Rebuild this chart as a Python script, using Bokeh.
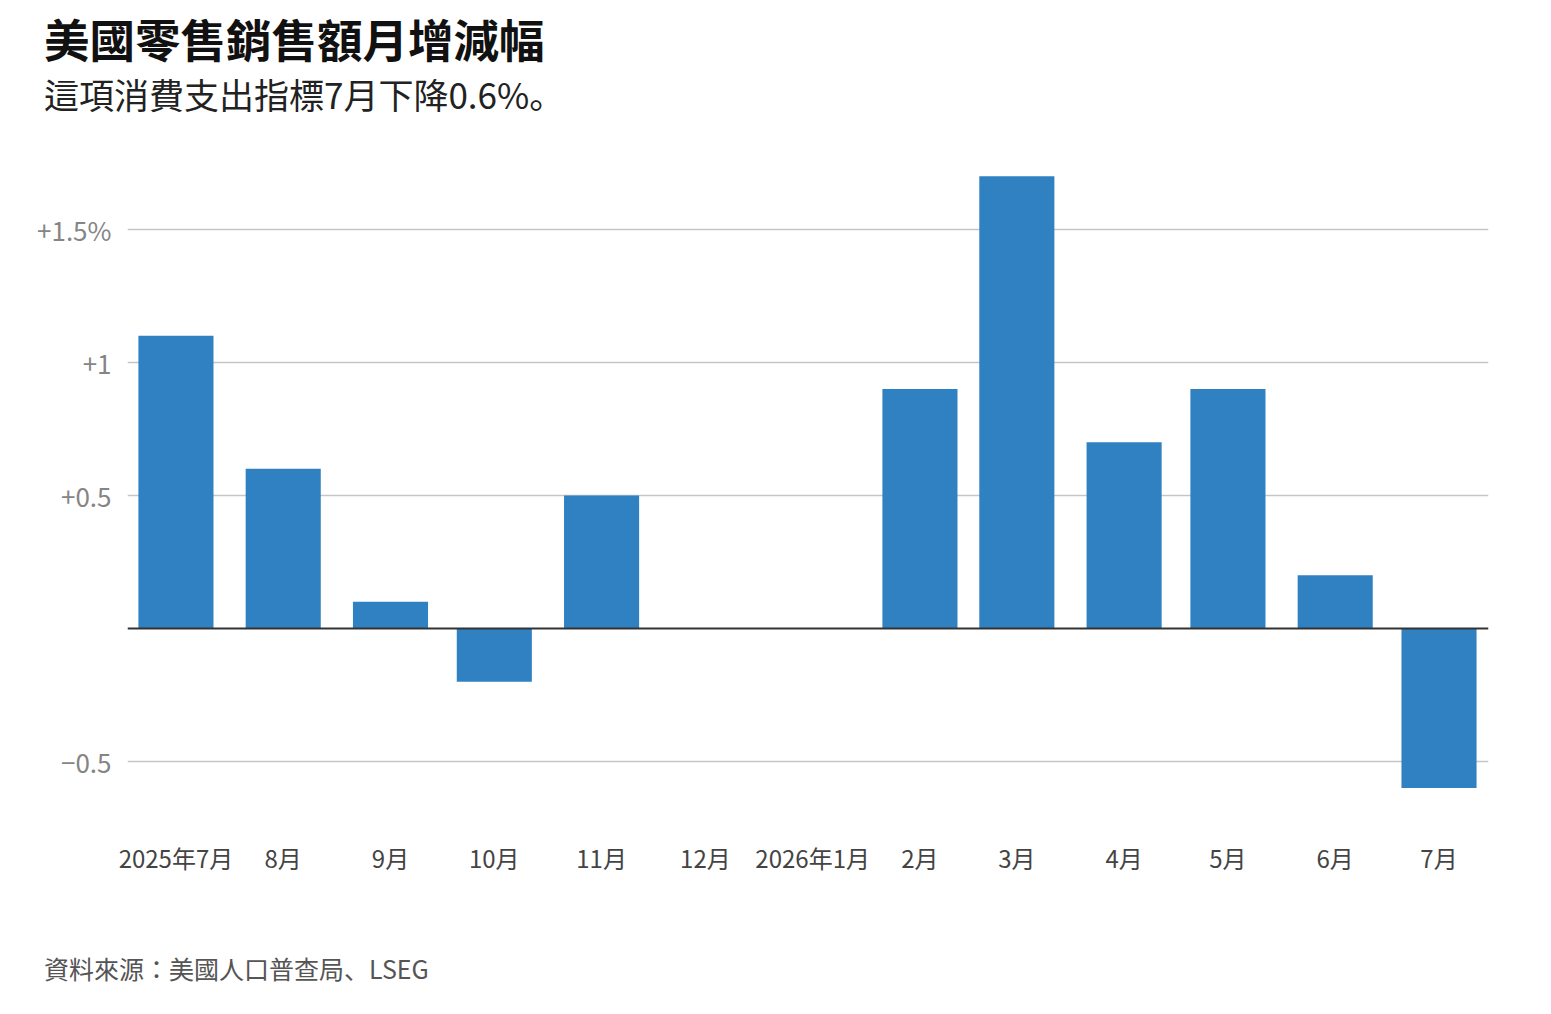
import numpy as np
from bokeh.plotting import figure
from bokeh.models import ColumnDataSource, Range1d, FixedTicker, Span, Div
from bokeh.layouts import column
from bokeh.embed import file_html
from bokeh.resources import INLINE

# data: monthly change in US retail sales (%), Dec 2025 / Jan 2026 not shown
months = ["2025-07-01", "2025-08-01", "2025-09-01", "2025-10-01", "2025-11-01",
          "2025-12-01", "2026-01-01", "2026-02-01", "2026-03-01", "2026-04-01",
          "2026-05-01", "2026-06-01", "2026-07-01"]
month_labels = ["2025年7月", "8月", "9月", "10月", "11月", "12月", "2026年1月",
                "2月", "3月", "4月", "5月", "6月", "7月"]
changes = [1.1, 0.6, 0.1, -0.2, 0.5, np.nan, np.nan, 0.9, 1.7, 0.7, 0.9, 0.2, -0.6]

y_ticks = [-0.5, 0.5, 1.0, 1.5]
y_tick_labels = ["\u22120.5", "+0.5", "+1", "+1.5%"]

title_text = "美國零售銷售額月增減幅"
subtitle_text = "這項消費支出指標7月下降0.6%。"
source_text = "資料來源：美國人口普查局、LSEG"

FONT = "Noto Sans CJK TC"
FONT_PUNCT = "Noto Sans CJK JP"   # puts 。 and 、 low-left like the original
BAR_COLOR = "#3081c2"
DAY = 86400000
WIDTH = 1540

dates = np.array(months, dtype="datetime64[ms]")
ms = dates.astype("int64").astype(float)

src = ColumnDataSource(data=dict(x=dates, top=changes))

p = figure(width=WIDTH, height=828, x_axis_type="datetime",
           x_range=Range1d(ms[0] - 14 * DAY, ms[-1] + 14.3 * DAY),
           y_range=Range1d(-0.6466, 1.759),
           output_backend="svg", toolbar_location=None,
           min_border_left=127, min_border_right=52,
           min_border_top=48, min_border_bottom=140)
p.outline_line_color = None
p.background_fill_color = "white"
p.border_fill_color = "white"

p.vbar(x="x", top="top", bottom=0, width=21.7 * DAY, source=src,
       fill_color=BAR_COLOR, line_color=None)

# zero line
p.add_layout(Span(location=0, dimension="width", line_color="#333333", line_width=2))

# grid
p.xgrid.grid_line_color = None
p.ygrid.ticker = FixedTicker(ticks=y_ticks)
p.ygrid.grid_line_color = "#c6c6c6"
p.ygrid.grid_line_width = 1.5

# y axis
yax = p.yaxis[0]
yax.ticker = FixedTicker(ticks=y_ticks)
yax.major_label_overrides = {t: l for t, l in zip(y_ticks, y_tick_labels)}
yax.axis_line_color = None
yax.major_tick_line_color = None
yax.minor_tick_line_color = None
yax.major_label_standoff = 10
yax.major_label_text_font = FONT
yax.major_label_text_font_size = "26px"
yax.major_label_text_color = "#858585"

# x axis
xax = p.xaxis[0]
xax.ticker = FixedTicker(ticks=list(ms))
xax.major_label_overrides = {t: l for t, l in zip(ms, month_labels)}
xax.axis_line_color = None
xax.major_tick_line_color = None
xax.minor_tick_line_color = None
xax.major_label_standoff = 33
xax.major_label_text_font = FONT
xax.major_label_text_font_size = "24px"
xax.major_label_text_color = "#444444"


def text_div(text, size, line_h, color, weight="normal", font=FONT):
    return Div(text=text, width=WIDTH, height=line_h,
               styles={"font-family": f"'{font}'", "font-size": size, "font-weight": weight,
                       "color": color, "line-height": f"{line_h}px",
                       "padding-left": "44px", "white-space": "nowrap",
                       "box-sizing": "border-box", "margin": "0"})


title = text_div(title_text, "45.5px", 76, "#111111", "bold")
subtitle = text_div(subtitle_text, "35px", 36, "#222222", font=FONT_PUNCT)
source = text_div(source_text, "25px", 56, "#555555", font=FONT_PUNCT)

layout = column(title, subtitle, p, source, spacing=0)

open("out.html", "w").write(file_html(layout, INLINE))
